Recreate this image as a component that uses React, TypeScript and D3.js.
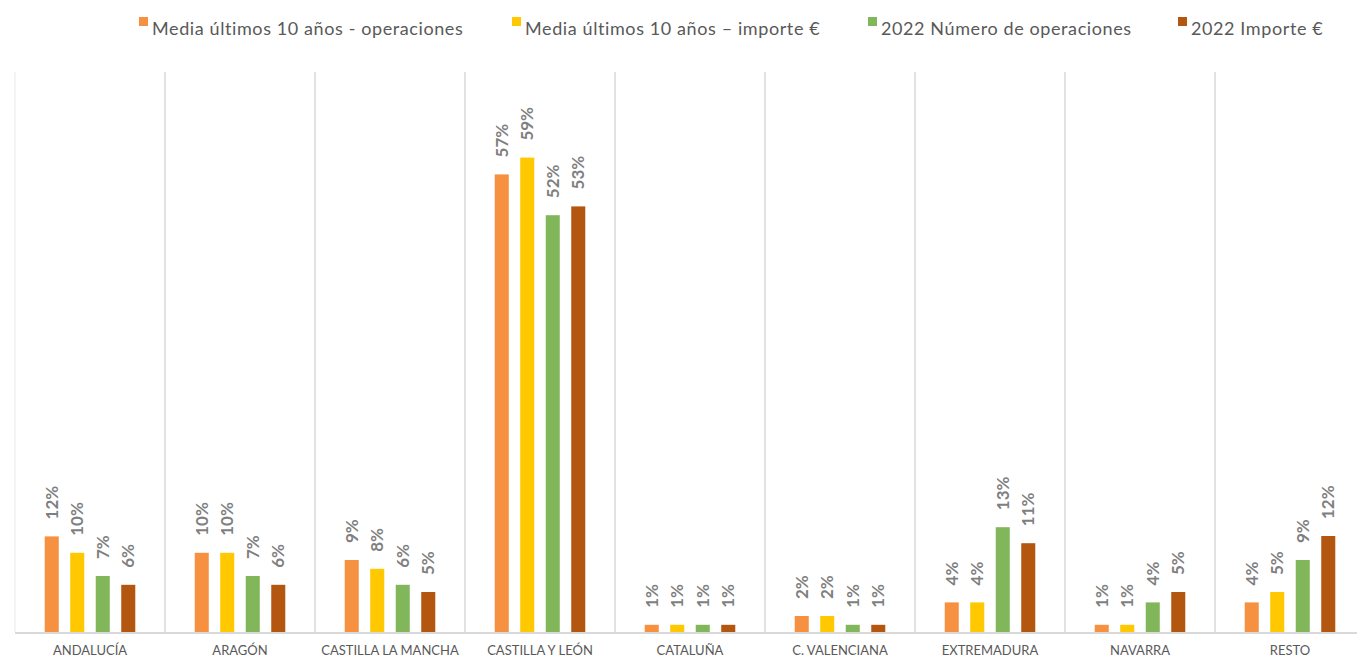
import * as d3 from "d3";
import { useRef, useEffect } from "react";

const categories = [
  "ANDALUCÍA",
  "ARAGÓN",
  "CASTILLA LA MANCHA",
  "CASTILLA Y LEÓN",
  "CATALUÑA",
  "C. VALENCIANA",
  "EXTREMADURA",
  "NAVARRA",
  "RESTO",
];

const seriesNames = [
  "Media últimos 10 años - operaciones",
  "Media últimos 10 años – importe €",
  "2022 Número de operaciones",
  "2022 Importe €",
];

// values in %
const mediaOperaciones = [11.95, 9.9, 9.0, 57.2, 0.9, 2.0, 3.7, 0.9, 3.7];
const mediaImporte = [9.9, 9.9, 7.9, 59.3, 0.9, 2.0, 3.7, 0.9, 5.0];
const operaciones2022 = [7.0, 7.0, 5.9, 52.1, 0.9, 0.9, 13.1, 3.7, 9.0];
const importe2022 = [5.9, 5.9, 5.0, 53.2, 0.9, 0.9, 11.1, 5.0, 12.0];

const seriesValues = [mediaOperaciones, mediaImporte, operaciones2022, importe2022];
const seriesColors = ["#F59140", "#FFC800", "#82B65A", "#B3560F"];

// legend square x positions
const legendX = [139, 512, 868, 1178];

const App = () => {
  const container = useRef(null);

  useEffect(() => {
    document.body.style.margin = "0";
    createChart();
  });

  const createChart = () => {
    let node = container.current;
    let width = 1357;
    let height = 657;

    let plot = { l: 15, r: 1365, t: 72, b: 632 };

    let svg = d3
      .select(node)
      .selectAll("svg")
      .data([0])
      .join("svg")
      .attr("width", width)
      .attr("height", height)
      .style("display", "block")
      .style("font-family", "Lato, 'Open Sans', sans-serif");

    let xScale = d3
      .scaleBand()
      .domain(categories)
      .range([plot.l, plot.r])
      .padding(0);

    let innerScale = d3
      .scaleBand()
      .domain(d3.range(4))
      .range([0, xScale.bandwidth()])
      .paddingInner(0.45)
      .paddingOuter(1.165);

    let yScale = d3.scaleLinear().domain([0, 70]).range([plot.b, plot.t]);

    // separators
    let gridg = svg.selectAll(".grid-g").data([0]).join("g").attr("class", "grid-g");
    gridg
      .selectAll(".sep")
      .data(categories)
      .join("line")
      .attr("class", "sep")
      .attr("x1", (d) => xScale(d))
      .attr("x2", (d) => xScale(d))
      .attr("y1", plot.t)
      .attr("y2", plot.b)
      .attr("stroke", (d, i) => (i === 0 ? "#f0f0f0" : "#d9d9d9"))
      .attr("stroke-width", 1.5);

    // bars
    let data = [];
    categories.forEach((c, ci) => {
      seriesValues.forEach((vals, si) => {
        data.push({ cat: c, s: si, v: vals[ci] });
      });
    });

    let barsg = svg.selectAll(".bars-g").data([0]).join("g").attr("class", "bars-g");
    barsg
      .selectAll(".bar")
      .data(data)
      .join("rect")
      .attr("class", "bar")
      .attr("x", (d) => xScale(d.cat) + innerScale(d.s))
      .attr("width", innerScale.bandwidth())
      .attr("y", (d) => yScale(d.v))
      .attr("height", (d) => yScale(0) - yScale(d.v))
      .attr("fill", (d) => seriesColors[d.s]);

    // labels
    barsg
      .selectAll(".bar-label")
      .data(data)
      .join("text")
      .attr("class", "bar-label")
      .attr(
        "transform",
        (d) =>
          `translate(${xScale(d.cat) + innerScale(d.s) + innerScale.bandwidth() / 2},${
            yScale(d.v) - 17
          })rotate(-90)`
      )
      .attr("dy", "0.36em")
      .attr("fill", "#7f7f7f")
      .style("font-size", "17px")
      .style("font-weight", 700)
      .text((d) => d3.format(".0f")(d.v) + "%");

    // x axis line
    svg
      .selectAll(".x-axis-line")
      .data([0])
      .join("line")
      .attr("class", "x-axis-line")
      .attr("x1", plot.l)
      .attr("x2", plot.r)
      .attr("y1", plot.b + 1)
      .attr("y2", plot.b + 1)
      .attr("stroke", "#d9d9d9")
      .attr("stroke-width", 2);

    svg
      .selectAll(".cat-label")
      .data(categories)
      .join("text")
      .attr("class", "cat-label")
      .attr("x", (d) => xScale(d) + xScale.bandwidth() / 2)
      .attr("y", 655)
      .attr("text-anchor", "middle")
      .attr("fill", "#595959")
      .style("font-size", "13px")
      .text((d) => d);

    // legend
    let legendg = svg
      .selectAll(".legend-g")
      .data(seriesNames)
      .join("g")
      .attr("class", "legend-g")
      .attr("transform", (d, i) => `translate(${legendX[i]},0)`);

    legendg
      .selectAll("rect")
      .data((d, i) => [i])
      .join("rect")
      .attr("x", 0)
      .attr("y", 17)
      .attr("width", 9)
      .attr("height", 9)
      .attr("fill", (i) => seriesColors[i]);

    legendg
      .selectAll("text")
      .data((d) => [d])
      .join("text")
      .attr("x", 13)
      .attr("y", 35)
      .attr("fill", "#595959")
      .style("font-size", "18px")
      .style("letter-spacing", "0.6px")
      .text((d) => d);
  };

  return <div ref={container}></div>;
};

export default App;
